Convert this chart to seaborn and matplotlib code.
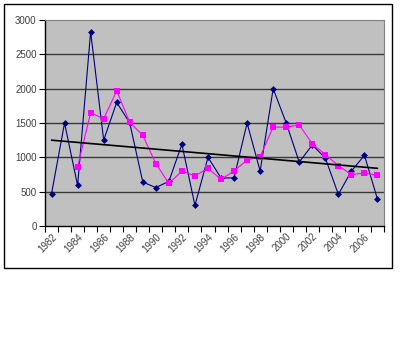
import matplotlib
matplotlib.use("Agg")
import matplotlib.pyplot as plt
import seaborn as sns
import pandas as pd
from matplotlib.patches import Rectangle

years = list(range(1982, 2008))
values = [470, 1500, 590, 2830, 1250, 1800, 1500, 640, 560, 650, 1190, 300, 1000,
          700, 700, 1500, 800, 2000, 1500, 930, 1180, 990, 460, 800, 1030, 390]
ma_years = list(range(1984, 2008))
ma_values = [860, 1650, 1560, 1970, 1510, 1320, 910, 620, 800, 730, 840, 680, 800,
             960, 1010, 1440, 1440, 1470, 1200, 1040, 880, 750, 770, 740]
trend_years = [1982, 2007]
trend_values = [1250, 840]
tick_labels = [str(y) for y in range(1982, 2007, 2)]

sns.set_theme(style="white")
plt.rcParams['font.family'] = ['Liberation Sans', 'DejaVu Sans']

fig = plt.figure(figsize=(4.0, 3.43), dpi=100)
fig.patch.set_facecolor("white")
# chart area frame
fig.patches.append(Rectangle((4/400, 75/343), 388/400, 264/343, transform=fig.transFigure,
                             fill=False, edgecolor="black", linewidth=1.0))

ax = fig.add_axes([45/400, 117/343, 339/400, 206/343])
ax.set_facecolor("#C0C0C0")

df = pd.DataFrame({"idx": [y - 1982 for y in years], "v": values})
dma = pd.DataFrame({"idx": [y - 1982 for y in ma_years], "v": ma_values})
dtr = pd.DataFrame({"idx": [y - 1982 for y in trend_years], "v": trend_values})

for yv in range(500, 3000, 500):
    ax.axhline(yv, color="#3a3a3a", linewidth=1.0, zorder=1)

sns.lineplot(data=df, x="idx", y="v", ax=ax, color="#000080", linewidth=0.8,
             marker="D", markersize=3.5, markeredgewidth=0, zorder=3)
sns.lineplot(data=dma, x="idx", y="v", ax=ax, color="#FF00FF", linewidth=0.8,
             marker="s", markersize=3.8, markeredgewidth=0, zorder=4)
sns.lineplot(data=dtr, x="idx", y="v", ax=ax, color="black", linewidth=1.2, zorder=5)

ax.set_xlim(-0.5, 25.5)
ax.set_ylim(0, 3000)
ax.set_xlabel("")
ax.set_ylabel("")

ax.set_yticks(range(0, 3001, 500))
ax.set_yticklabels([str(v) for v in range(0, 3001, 500)], fontsize=7, color="#404040")
ax.set_xticks(list(range(0, 25, 2)))
ax.set_xticklabels(tick_labels, rotation=45, ha="right", rotation_mode="anchor",
                   fontsize=7, color="#404040")
ax.set_xticks([i - 0.5 for i in range(27)], minor=True)
ax.tick_params(axis="x", which="major", length=0, pad=4)
ax.tick_params(axis="x", which="minor", length=4, width=0.8, color="black", direction="out", bottom=True)
ax.tick_params(axis="y", which="major", length=4, width=0.8, color="black", direction="out", left=True, pad=2)

for s in ["top", "right"]:
    ax.spines[s].set_color("#808080")
    ax.spines[s].set_linewidth(0.8)
for s in ["left", "bottom"]:
    ax.spines[s].set_color("black")
    ax.spines[s].set_linewidth(1.0)

fig.savefig("out.png", dpi=100, facecolor="white")
